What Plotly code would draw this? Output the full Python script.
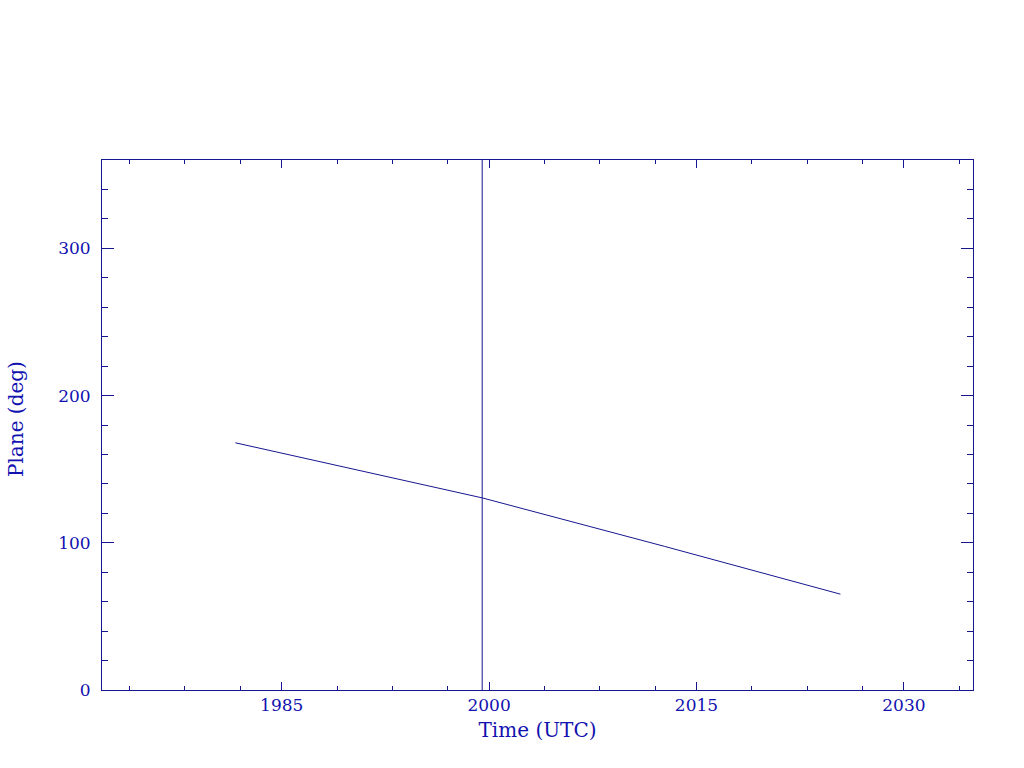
import plotly.graph_objects as go

# Data
years = [1981.65, 1990.64, 1999.50, 2012.67, 2025.41]
plane_deg = [167.9, 149.1, 130.5, 97.6, 65.1]
marker_year = 1999.50

x_range = [1972, 2035]
y_range = [0, 360]
x_major = [1985, 2000, 2015, 2030]
x_major_labels = ["1985", "2000", "2015", "2030"]
x_minor = [1974, 1978, 1982, 1989, 1993, 1997, 2004, 2008, 2012, 2019, 2023, 2027, 2034]
y_major = [0, 100, 200, 300]
y_minor_step = 20

line_col = "#16168f"
text_col = "#1212b0"
font_fam = "DejaVu Serif"

fig = go.Figure()
fig.add_trace(go.Scatter(x=years, y=plane_deg, mode="lines",
                         line=dict(color=line_col, width=1), showlegend=False,
                         hoverinfo="skip"))
fig.add_trace(go.Scatter(x=[marker_year, marker_year], y=y_range, mode="lines",
                         line=dict(color=line_col, width=1), showlegend=False,
                         hoverinfo="skip"))

fig.update_layout(
    width=1024, height=768,
    margin=dict(l=102, r=51, t=160, b=78),
    paper_bgcolor="white", plot_bgcolor="white",
    font=dict(family=font_fam, color=text_col, size=17),
    xaxis=dict(
        range=x_range, showgrid=False, zeroline=False, automargin=False,
        showline=True, linecolor=line_col, linewidth=1, mirror="ticks",
        ticks="inside", ticklen=8, tickwidth=1, tickcolor=line_col,
        tickmode="array", tickvals=x_major, ticktext=x_major_labels,
        tickfont=dict(family=font_fam, size=17, color=text_col),
        ticklabelstandoff=0,
        minor=dict(tickmode="array", tickvals=x_minor, ticks="inside",
                   ticklen=4, tickwidth=1, tickcolor=line_col, showgrid=False),
        title=dict(text="Time (UTC)", font=dict(family=font_fam, size=20, color=text_col),
                   standoff=8),
    ),
    yaxis=dict(
        range=y_range, showgrid=False, zeroline=False, automargin=False,
        showline=True, linecolor=line_col, linewidth=1, mirror="ticks",
        ticks="inside", ticklen=12, tickwidth=1, tickcolor=line_col,
        tickmode="array", tickvals=y_major,
        tickfont=dict(family=font_fam, size=17, color=text_col),
        ticklabelstandoff=7,
        minor=dict(dtick=y_minor_step, ticks="inside", ticklen=6, tickwidth=1,
                   tickcolor=line_col, showgrid=False),
    ),
    annotations=[dict(
        text="Plane (deg)", textangle=-90, showarrow=False,
        xref="paper", yref="paper", x=0, y=0.5,
        xanchor="center", yanchor="middle", xshift=-86, yshift=6,
        font=dict(family=font_fam, size=20, color=text_col),
    )],
)

# remove the page's default body margin so the 1024x768 figure fills the window
fig.write_html("out.html",
               config={"displayModeBar": False},
               post_script="document.body.style.margin='0';document.body.style.overflow='hidden';")
